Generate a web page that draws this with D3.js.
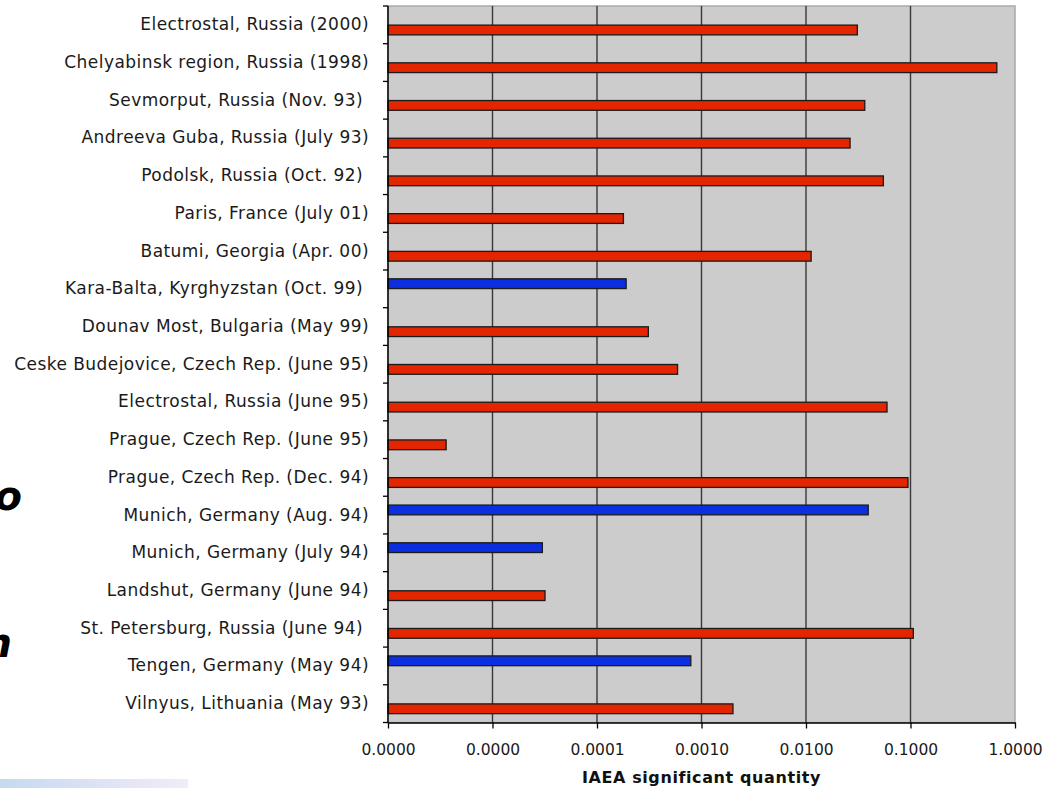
<!DOCTYPE html>
<html>
<head>
<meta charset="utf-8">
<script src="https://cdn.jsdelivr.net/npm/d3@7"></script>
<style>
  html, body { margin: 0; padding: 0; background: #ffffff; }
  svg { display: block; }
  .cat-label { font-family: "DejaVu Sans", Verdana, sans-serif; font-size: 17px; fill: #1a1a1a; white-space: pre; letter-spacing: 0.45px; }
  .tick-label { font-family: "DejaVu Sans", Verdana, sans-serif; font-size: 15.5px; fill: #1a1a1a; }
  .axis-title { font-family: "DejaVu Sans", Verdana, sans-serif; font-size: 16px; font-weight: bold; fill: #111; letter-spacing: 0.6px; }
  .frag { font-family: "DejaVu Sans", Verdana, sans-serif; font-size: 40px; font-weight: bold; font-style: italic; fill: #000; }
</style>
</head>
<body>
<svg id="chart" width="1048" height="788"></svg>
<script>
// Trafficking incidents, top to bottom, with quantity seized in IAEA significant quantities
const categories = [
  "Electrostal, Russia (2000)",
  "Chelyabinsk region, Russia (1998)",
  "Sevmorput, Russia (Nov. 93) ",
  "Andreeva Guba, Russia (July 93)",
  "Podolsk, Russia (Oct. 92) ",
  "Paris, France (July 01)",
  "Batumi, Georgia (Apr. 00)",
  "Kara-Balta, Kyrghyzstan (Oct. 99) ",
  "Dounav Most, Bulgaria (May 99)",
  "Ceske Budejovice, Czech Rep. (June 95)",
  "Electrostal, Russia (June 95)",
  "Prague, Czech Rep. (June 95)",
  "Prague, Czech Rep. (Dec. 94)",
  "Munich, Germany (Aug. 94)",
  "Munich, Germany (July 94)",
  "Landshut, Germany (June 94)",
  "St. Petersburg, Russia (June 94) ",
  "Tengen, Germany (May 94)",
  "Vilnyus, Lithuania (May 93)"
];

// Uranium series (red)
const uraniumValues = [
  0.031, 0.67, 0.0365, 0.0264, 0.055, 0.000179, 0.0112, null, 0.00031, 0.00059,
  0.0596, 0.0000036, 0.0946, null, null, 0.0000318, 0.1064, null, 0.0020
];

// Plutonium series (blue)
const plutoniumValues = [
  null, null, null, null, null, null, null, 0.00019, null, null,
  null, null, null, 0.0394, 0.000030, null, null, 0.00079, null
];

const xTickValues = [1e-6, 1e-5, 1e-4, 1e-3, 1e-2, 1e-1, 1];
const axisTitle = "IAEA significant quantity";

const svg = d3.select("#chart");

const plot = { left: 388, right: 1015, top: 6, bottom: 722.5 };

const x = d3.scaleLog().domain([1e-6, 1]).range([plot.left, plot.right]);
const y = d3.scaleBand().domain(categories).range([plot.top, plot.bottom]).paddingInner(0).paddingOuter(0);
const slot = d3.scaleBand().domain(["plutonium", "uranium"]).range([0, y.bandwidth()])
  .paddingInner(0.05).paddingOuter(0.86);

const series = [
  { key: "uranium", values: uraniumValues, color: "#e42600" },
  { key: "plutonium", values: plutoniumValues, color: "#0a2ee0" }
];

// Plot background
svg.append("rect")
  .attr("x", plot.left).attr("y", plot.top)
  .attr("width", plot.right - plot.left).attr("height", plot.bottom - plot.top)
  .attr("fill", "#cccccc")
  .attr("stroke", "#a9a9a9").attr("stroke-width", 1.5);

// Vertical gridlines at each decade
svg.append("g").selectAll("line")
  .data(xTickValues.slice(1, -1))
  .join("line")
  .attr("x1", d => x(d)).attr("x2", d => x(d))
  .attr("y1", plot.top).attr("y2", plot.bottom)
  .attr("stroke", "#383838").attr("stroke-width", 1.4);

// Bars
series.forEach(s => {
  svg.append("g").selectAll("rect")
    .data(categories.map((c, i) => ({ c, v: s.values[i] })).filter(d => d.v != null))
    .join("rect")
    .attr("x", x(1e-6))
    .attr("y", d => y(d.c) + slot(s.key))
    .attr("width", d => x(d.v) - x(1e-6))
    .attr("height", slot.bandwidth())
    .attr("fill", s.color)
    .attr("stroke", "#1a1a1a").attr("stroke-width", 1.3);
});

// Category axis: line, boundary ticks, labels
const yAxis = svg.append("g");
yAxis.append("line")
  .attr("x1", plot.left).attr("x2", plot.left)
  .attr("y1", plot.top).attr("y2", plot.bottom)
  .attr("stroke", "#000").attr("stroke-width", 1.5);
yAxis.selectAll("line.tick")
  .data(d3.range(categories.length + 1))
  .join("line").attr("class", "tick")
  .attr("x1", plot.left - 5).attr("x2", plot.left)
  .attr("y1", i => plot.top + i * y.step()).attr("y2", i => plot.top + i * y.step())
  .attr("stroke", "#000").attr("stroke-width", 1.3);
yAxis.selectAll("text")
  .data(categories)
  .join("text").attr("class", "cat-label")
  .attr("x", 369)
  .attr("y", d => y(d) + y.bandwidth() / 2 - 0.5)
  .attr("dy", "0.35em")
  .attr("text-anchor", "end")
  .text(d => d);

// Value axis
const xAxis = svg.append("g")
  .attr("transform", `translate(0,${plot.bottom})`)
  .call(d3.axisBottom(x).tickValues(xTickValues).tickFormat(d3.format(".4f")).tickSize(6).tickSizeOuter(0).tickPadding(15));
xAxis.select(".domain").attr("stroke", "#000").attr("stroke-width", 1.5);
xAxis.selectAll(".tick line").attr("stroke", "#000").attr("stroke-width", 1.3);
xAxis.selectAll(".tick text").attr("class", "tick-label").attr("font-family", null).attr("font-size", null).attr("fill", null);

svg.append("text").attr("class", "axis-title")
  .attr("x", (plot.left + plot.right) / 2).attr("y", 783)
  .attr("text-anchor", "middle")
  .text(axisTitle);

// Slide title fragments at the left edge
svg.append("text").attr("class", "frag").attr("x", 22).attr("y", 510).attr("text-anchor", "end").text("o");
svg.append("text").attr("class", "frag").attr("x", 12).attr("y", 657).attr("text-anchor", "end").text("n");

// Slide footer band
const grad = svg.append("defs").append("linearGradient").attr("id", "footer");
grad.append("stop").attr("offset", "0%").attr("stop-color", "#c5d9f1");
grad.append("stop").attr("offset", "100%").attr("stop-color", "#f3ebf8");
svg.append("rect").attr("x", 0).attr("y", 779).attr("width", 188).attr("height", 9).attr("fill", "url(#footer)");
</script>
</body>
</html>
